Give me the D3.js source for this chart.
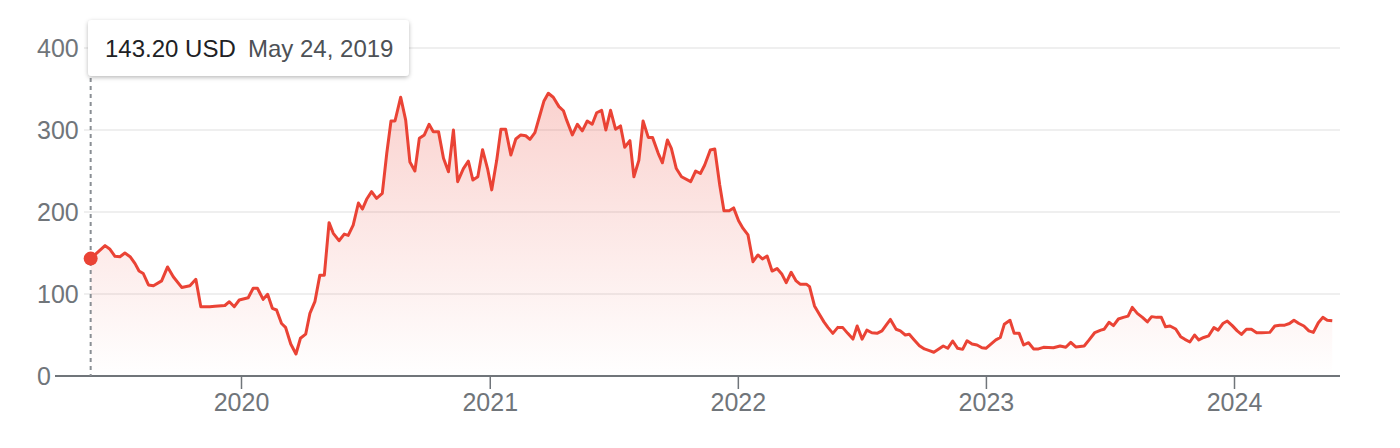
<!DOCTYPE html>
<html>
<head>
<meta charset="utf-8">
<script src="https://cdn.jsdelivr.net/npm/d3@7"></script>
<style>
  html, body { margin: 0; padding: 0; background: #fff; }
  svg { display: block; font-family: Arial, "Liberation Sans", sans-serif; }
</style>
</head>
<body>
<svg id="chart" width="1400" height="448"></svg>
<script>
// ---- data ----
// time of each point as a decimal year
const years = [
  2019.394,2019.452,2019.472,2019.492,2019.512,2019.532,2019.553,2019.573,2019.589,2019.606,
  2019.627,2019.647,2019.680,2019.704,2019.727,2019.761,2019.794,2019.818,2019.838,2019.874,
  2019.895,2019.935,2019.953,2019.973,2019.993,2020.029,2020.049,2020.066,2020.089,2020.107,
  2020.126,2020.143,2020.163,2020.179,2020.200,2020.221,2020.239,2020.260,2020.277,2020.297,
  2020.317,2020.335,2020.354,2020.371,2020.394,2020.415,2020.431,2020.451,2020.472,2020.488,
  2020.505,2020.525,2020.545,2020.568,2020.586,2020.603,2020.619,2020.642,2020.662,2020.679,
  2020.699,2020.717,2020.737,2020.756,2020.773,2020.794,2020.814,2020.834,2020.854,2020.871,
  2020.894,2020.914,2020.932,2020.952,2020.971,2020.991,2021.008,2021.028,2021.045,2021.064,
  2021.085,2021.105,2021.125,2021.145,2021.162,2021.182,2021.202,2021.218,2021.236,2021.256,
  2021.279,2021.297,2021.310,2021.333,2021.353,2021.373,2021.393,2021.413,2021.431,2021.451,
  2021.468,2021.487,2021.507,2021.527,2021.544,2021.565,2021.581,2021.601,2021.618,2021.639,
  2021.656,2021.679,2021.696,2021.716,2021.732,2021.752,2021.773,2021.810,2021.830,2021.849,
  2021.866,2021.889,2021.907,2021.927,2021.944,2021.965,2021.983,2022.003,2022.021,2022.041,
  2022.061,2022.081,2022.099,2022.118,2022.138,2022.158,2022.178,2022.195,2022.215,2022.235,
  2022.251,2022.276,2022.289,2022.309,2022.325,2022.347,2022.363,2022.383,2022.403,2022.423,
  2022.443,2022.464,2022.481,2022.501,2022.520,2022.540,2022.561,2022.581,2022.600,2022.615,
  2022.638,2022.655,2022.675,2022.691,2022.711,2022.732,2022.752,2022.772,2022.790,2022.810,
  2022.828,2022.846,2022.866,2022.886,2022.906,2022.924,2022.944,2022.964,2022.984,2023.000,
  2023.020,2023.040,2023.058,2023.074,2023.097,2023.114,2023.134,2023.152,2023.172,2023.192,
  2023.212,2023.232,2023.272,2023.299,2023.322,2023.342,2023.362,2023.396,2023.416,2023.439,
  2023.463,2023.476,2023.496,2023.514,2023.534,2023.554,2023.573,2023.590,2023.610,2023.631,
  2023.651,2023.668,2023.688,2023.707,2023.724,2023.742,2023.765,2023.785,2023.802,2023.822,
  2023.841,2023.858,2023.878,2023.898,2023.919,2023.936,2023.955,2023.973,2023.993,2024.013,
  2024.030,2024.050,2024.070,2024.091,2024.111,2024.144,2024.164,2024.184,2024.204,2024.223,
  2024.241,2024.261,2024.281,2024.301,2024.319,2024.339,2024.357,2024.375,2024.395
];
// price in USD
const prices = [
  143.2,159,154.5,146,145.5,150,145.5,137,128,125,
  111,110,116,133,121,108,110,118,84.5,84.5,
  85,86,90.6,84.5,92.7,95.5,107,107,93.5,99.6,
  82.5,80.5,64,59.4,39,26.8,46,51,76.4,90.6,
  123,123,187,174,165,173,171.5,184,211,203.6,
  215.5,224.8,216.7,222.8,271.6,311,311,340,312,261,
  250,290,294,307,298,298,265.5,249,300,237,
  253,262,239,243,276,253,227,263,301,301,
  269.5,289,294,293,288.6,296.7,318,335,344.8,340,
  328.5,323.5,312,294,307,299,311,307,321,324,
  300,324,301,305,279,287,243,263,311,291,
  291,271.6,260,287.8,277.7,253,243,237,250,247,
  257,275.6,276.8,233,201.6,201.6,205,189.4,180,172,
  139.4,147.6,142.7,146.3,128,131,124,113.8,126.5,116,
  112,112,109,85.4,77,66,59.3,52,59.3,59,
  52,45,61,45,56,52.8,52,55,63,69,
  57,55,50,50.8,44,37,33,31,29,33,
  36.6,33.8,42.7,33.8,32.5,43,39,37.8,34.5,33.8,
  39,44,47,63,68,52,52,37.8,40.6,33,
  33,35,34.5,36.6,35,41,35.5,36.6,44,53,
  56,57,65.5,61.4,69.5,71.5,73,83.7,76.4,71.5,
  66,72.4,71.5,71.5,60,61,57.3,48,44.7,41.5,
  50,44,47,49,59,56,64,67,61.4,55,
  50.8,57,57,52.8,52.8,53.2,61,62,62,64,
  68,64,61,55,53.2,65,71.5,68,67.4
];
const yTicks = [0, 100, 200, 300, 400];
const xTickYears = [2020, 2021, 2022, 2023, 2024];
const tooltipPrice = "143.20 USD";
const tooltipDate = "May 24, 2019";

// ---- helpers ----
function yearToDate(t) {
  const y = Math.floor(t);
  const a = Date.UTC(y, 0, 1), b = Date.UTC(y + 1, 0, 1);
  return new Date(a + (t - y) * (b - a));
}
const data = years.map((t, i) => ({ date: yearToDate(t), value: prices[i] }));

// ---- layout ----
const svg = d3.select("#chart");
const axisY = 376;
const plotRight = 1340;

const x = d3.scaleUtc()
  .domain([new Date(Date.UTC(2020, 0, 1)), new Date(Date.UTC(2024, 0, 1))])
  .range([241, 1234]);
const y = d3.scaleLinear().domain([0, 400]).range([axisY, 48]);

const red = "#ea4335";
const grey = "#70757a";

// gradient
const defs = svg.append("defs");
const grad = defs.append("linearGradient")
  .attr("id", "fillGrad")
  .attr("gradientUnits", "userSpaceOnUse")
  .attr("x1", 0).attr("x2", 0)
  .attr("y1", y(d3.max(prices))).attr("y2", y(0));
grad.append("stop").attr("offset", 0).attr("stop-color", red).attr("stop-opacity", 0.24);
grad.append("stop").attr("offset", 1).attr("stop-color", red).attr("stop-opacity", 0.0);

const shadow = defs.append("filter").attr("id", "shadow")
  .attr("x", "-10%").attr("y", "-30%").attr("width", "120%").attr("height", "170%");
shadow.append("feDropShadow").attr("dx", 0).attr("dy", 1.5).attr("stdDeviation", 2)
  .attr("flood-color", "#000").attr("flood-opacity", 0.28);

// gridlines
svg.append("g").selectAll("line")
  .data(yTicks.filter(d => d > 0))
  .join("line")
  .attr("x1", 84).attr("x2", plotRight)
  .attr("y1", d => y(d)).attr("y2", d => y(d))
  .attr("stroke", "#efefef").attr("stroke-width", 2);

// y labels
svg.append("g").selectAll("text")
  .data(yTicks)
  .join("text")
  .attr("x", 37).attr("y", d => y(d)).attr("dy", "0.35em")
  .attr("fill", grey).attr("font-size", 25)
  .text(d => d);

// area + line
const area = d3.area().x(d => x(d.date)).y0(y(0)).y1(d => y(d.value));
const line = d3.line().x(d => x(d.date)).y(d => y(d.value));

svg.append("path").datum(data).attr("d", area).attr("fill", "url(#fillGrad)");

// x axis
const xAxis = d3.axisBottom(x)
  .tickValues(xTickYears.map(yy => new Date(Date.UTC(yy, 0, 1))))
  .tickFormat(d3.utcFormat("%Y"))
  .tickSize(13).tickPadding(4);
const gx = svg.append("g").attr("transform", `translate(0,${axisY})`).call(xAxis);
gx.select(".domain").remove();
gx.selectAll(".tick line").attr("stroke", grey).attr("stroke-width", 1.5);
gx.selectAll(".tick text").attr("fill", grey).attr("font-size", 25)
  .attr("font-family", "Arial, 'Liberation Sans', sans-serif");
svg.append("line").attr("x1", 55).attr("x2", plotRight)
  .attr("y1", axisY).attr("y2", axisY)
  .attr("stroke", grey).attr("stroke-width", 2);

// hover guide
const first = data[0];
svg.append("line")
  .attr("x1", x(first.date)).attr("x2", x(first.date))
  .attr("y1", 78).attr("y2", axisY)
  .attr("stroke", "#8a8f94").attr("stroke-width", 2).attr("stroke-dasharray", "4,4");

svg.append("path").datum(data).attr("d", line)
  .attr("fill", "none").attr("stroke", red).attr("stroke-width", 3)
  .attr("stroke-linejoin", "round");

svg.append("circle").attr("cx", x(first.date)).attr("cy", y(first.value))
  .attr("r", 7).attr("fill", red);

// tooltip
const tip = svg.append("g");
tip.append("rect").attr("x", 88).attr("y", 20).attr("width", 321).attr("height", 56)
  .attr("rx", 4).attr("fill", "#fff").attr("filter", "url(#shadow)");
tip.append("text").attr("x", 105).attr("y", 56.5)
  .attr("font-size", 24).attr("fill", "#202124").text(tooltipPrice);
tip.append("text").attr("x", 248).attr("y", 56.5)
  .attr("font-size", 24).attr("fill", "#4d5156").text(tooltipDate);
</script>
</body>
</html>
